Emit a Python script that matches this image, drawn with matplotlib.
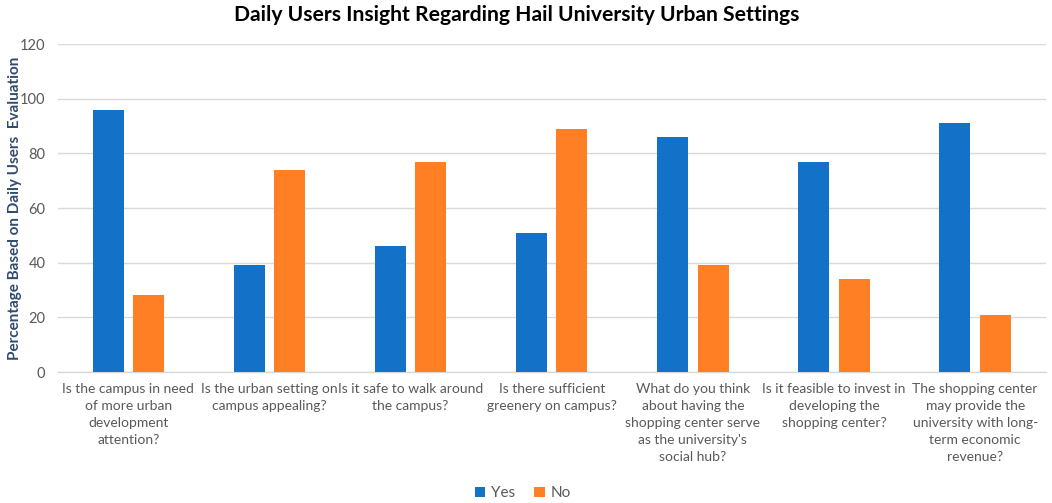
import matplotlib.pyplot as plt
import numpy as np

questions = [
    "Is the campus in need\nof more urban\ndevelopment\nattention?",
    "Is the urban setting on\ncampus appealing?",
    "Is it safe to walk around\nthe campus?",
    "Is there sufficient\ngreenery on campus?",
    "What do you think\nabout having the\nshopping center serve\nas the university's\nsocial hub?",
    "Is it feasible to invest in\ndeveloping the\nshopping center?",
    "The shopping center\nmay provide the\nuniversity with long-\nterm economic\nrevenue?",
]
yes = [96, 39, 46, 51, 86, 77, 91]
no = [28, 74, 77, 89, 39, 34, 21]

plt.rcParams['font.family'] = ['Lato', 'DejaVu Sans']

fig = plt.figure(figsize=(10.52, 5.03), dpi=100)
ax = fig.add_axes([0.055, 0.2604, 0.939, 0.652])

x = np.arange(len(questions))
w = 0.22
ax.bar(x - 0.143, yes, w, color='#1372C8', label='Yes', zorder=3)
ax.bar(x + 0.143, no, w, color='#FF7F24', label='No', zorder=3)

ax.set_xlim(-0.5, len(questions) - 0.5)
ax.set_ylim(0, 120)
ax.set_yticks(range(0, 121, 20))
ax.yaxis.grid(True, color='#D9D9D9', linewidth=1.0, zorder=0)
for s in ['top', 'right', 'left']:
    ax.spines[s].set_visible(False)
ax.spines['bottom'].set_color('#D9D9D9')
ax.spines['bottom'].set_linewidth(1.0)

ax.set_xticks(x)
ax.set_xticklabels(questions, fontsize=10, color='#595959', linespacing=1.5)
ax.tick_params(axis='x', length=0, pad=8)
ax.tick_params(axis='y', length=0, pad=9, labelsize=10.5, labelcolor='#595959')

ax.set_ylabel('Percentage Based on Daily Users  Evaluation', fontsize=11,
              fontweight='bold', color='#2F4B6E')
ax.yaxis.set_label_coords(-0.036, 0.5)

fig.suptitle('Daily Users Insight Regarding Hail University Urban Settings',
             x=0.491, y=0.99, fontsize=15.2, fontweight='bold', color='black')

fig.legend(loc='lower center', bbox_to_anchor=(0.497, -0.022), ncol=2,
           frameon=False, fontsize=11, handlelength=0.7, handleheight=0.7,
           handletextpad=0.4, columnspacing=1.2, labelcolor='#595959')

plt.savefig('out.png', dpi=100)
